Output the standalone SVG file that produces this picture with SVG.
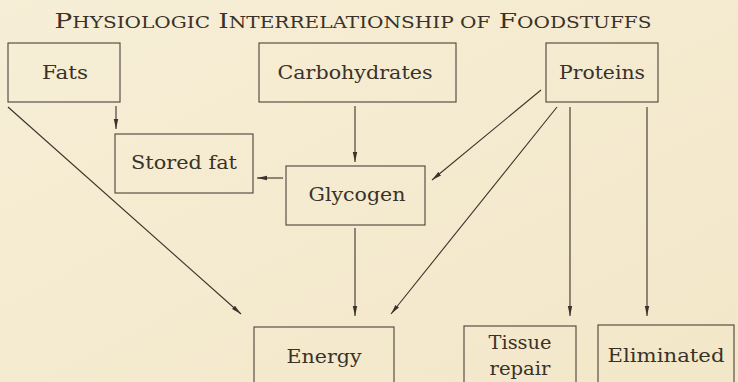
<svg xmlns="http://www.w3.org/2000/svg" width="738" height="382" viewBox="0 0 738 382">
<defs>
<linearGradient id="bg" x1="0" y1="0" x2="1" y2="1">
<stop offset="0" stop-color="#f6eed6"/>
<stop offset="1" stop-color="#f3e7c9"/>
</linearGradient>
<marker id="ah" viewBox="0 0 10 6" refX="10" refY="3" markerWidth="10" markerHeight="6" markerUnits="userSpaceOnUse" orient="auto">
<path d="M0,0.8 L10,3 L0,5.2 Z" fill="#3a332b"/>
</marker>
</defs>
<style>
.box{fill:none;stroke:#4a4238;stroke-width:1.1}
.t{font-family:"DejaVu Serif","Liberation Serif",serif;font-size:19px;fill:#3a3228;text-anchor:middle}
.c{fill:none;stroke:#3a332b;stroke-width:1.1;marker-end:url(#ah)}
.sc{font-size:16px}
</style>
<rect width="738" height="382" fill="url(#bg)"/>
<text x="353" y="28" font-family="DejaVu Serif, Liberation Serif, serif" font-size="21" fill="#3a3228" text-anchor="middle" textLength="597" lengthAdjust="spacingAndGlyphs">P<tspan class="sc">HYSIOLOGIC</tspan> I<tspan class="sc">NTERRELATIONSHIP OF</tspan> F<tspan class="sc">OODSTUFFS</tspan></text>
<g id="fats"><rect class="box" x="8" y="43" width="112" height="59"/><text class="t" x="65" y="79" textLength="46" lengthAdjust="spacingAndGlyphs">Fats</text></g>
<g id="carbohydrates"><rect class="box" x="259" y="43" width="197" height="59"/><text class="t" x="355" y="79" textLength="155" lengthAdjust="spacingAndGlyphs">Carbohydrates</text></g>
<g id="proteins"><rect class="box" x="546" y="43" width="112" height="59"/><text class="t" x="602" y="79" textLength="86" lengthAdjust="spacingAndGlyphs">Proteins</text></g>
<g id="stored-fat"><rect class="box" x="115" y="134" width="138" height="59"/><text class="t" x="184" y="169" textLength="106" lengthAdjust="spacingAndGlyphs">Stored fat</text></g>
<g id="glycogen"><rect class="box" x="286" y="166" width="139" height="59"/><text class="t" x="357" y="201" textLength="97" lengthAdjust="spacingAndGlyphs">Glycogen</text></g>
<g id="energy"><rect class="box" x="254" y="327" width="140" height="70"/><text class="t" x="324" y="363" textLength="75" lengthAdjust="spacingAndGlyphs">Energy</text></g>
<g id="tissue-repair"><rect class="box" x="464" y="326" width="112" height="70"/><text class="t" x="520" y="349" textLength="63" lengthAdjust="spacingAndGlyphs">Tissue</text><text class="t" x="520" y="375" textLength="61" lengthAdjust="spacingAndGlyphs">repair</text></g>
<g id="eliminated"><rect class="box" x="598" y="325" width="136" height="70"/><text class="t" x="666" y="362" textLength="117" lengthAdjust="spacingAndGlyphs">Eliminated</text></g>
<g id="connectors">
<line class="c" x1="116" y1="106" x2="116" y2="129"/>
<line class="c" x1="8" y1="107" x2="241" y2="314"/>
<line class="c" x1="355" y1="106" x2="355" y2="162"/>
<line class="c" x1="283" y1="178" x2="257" y2="178"/>
<line class="c" x1="541" y1="90" x2="432" y2="180"/>
<line class="c" x1="557" y1="107" x2="391" y2="314"/>
<line class="c" x1="355" y1="228" x2="355" y2="316"/>
<line class="c" x1="570" y1="107" x2="570" y2="316"/>
<line class="c" x1="647" y1="107" x2="647" y2="316"/>
</g>
</svg>
